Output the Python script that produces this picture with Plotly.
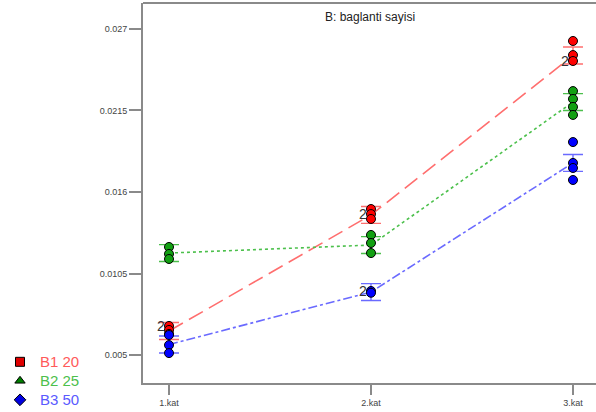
import plotly.graph_objects as go

# Factor levels on the x axis
categories = ["1.kat", "2.kat", "3.kat"]
xpos = [1, 2, 3]

# Predicted means per level of B (baglanti sayisi)
mean_b1 = [0.00662, 0.01445, 0.02521]
mean_b2 = [0.01188, 0.01242, 0.02207]
mean_b3 = [0.00571, 0.00925, 0.01796]

# Half width of the LSD bars
lsd_half = [0.00057, 0.00057, 0.00057]

# Design points (observed runs)
pts_b1_x = [1, 1, 1, 2, 2, 2, 3, 3, 3]
pts_b1_y = [0.00696, 0.00669, 0.00642, 0.01485, 0.01451, 0.01418, 0.02619, 0.02524, 0.02484]
pts_b2_x = [1, 1, 1, 2, 2, 2, 3, 3, 3, 3]
pts_b2_y = [0.01229, 0.01182, 0.01148, 0.01310, 0.01256, 0.01188, 0.02281, 0.02228, 0.02174, 0.02120]
pts_b3_x = [1, 1, 1, 2, 2, 3, 3, 3, 3]
pts_b3_y = [0.00635, 0.00567, 0.00513, 0.00932, 0.00920, 0.01937, 0.01796, 0.01762, 0.01681]

# Points that stand for two coincident runs
dup_x = [1, 2, 2, 3]
dup_y = [0.00696, 0.01451, 0.00932, 0.02484]

y_ticks = [0.005, 0.0105, 0.016, 0.0215, 0.027]
y_tick_text = ["0.005", "0.0105", "0.016", "0.0215", "0.027"]

series = [
    ("B1 20", mean_b1, pts_b1_x, pts_b1_y, "#ff6e6e", "#ff0000", "#e00000", "square", "#ff5a5a", "16px,7px"),
    ("B2 25", mean_b2, pts_b2_x, pts_b2_y, "#4cc04c", "#12a012", "#008000", "triangle-up", "#4cc04c", "dot"),
    ("B3 50", mean_b3, pts_b3_x, pts_b3_y, "#6a6aff", "#0000ff", "#0000e0", "diamond", "#5a5aff", "dashdot"),
]

fig = go.Figure()
font_family = "Liberation Sans Narrow, Arial Narrow, Liberation Sans, Arial, sans-serif"

for name, means, px, py, lcol, pcol, legcol, sym, tcol, dash in series:
    # connecting line through the means with LSD bars
    fig.add_trace(go.Scatter(
        x=xpos, y=means, mode="lines",
        line=dict(color=lcol, width=1.6, dash=dash),
        error_y=dict(type="data", array=lsd_half, color=lcol, thickness=1.4, width=10),
        showlegend=False, hoverinfo="skip",
    ))
    # observed design points
    fig.add_trace(go.Scatter(
        x=px, y=py, mode="markers",
        marker=dict(symbol="circle", size=9, color=pcol, line=dict(color="#000000", width=1)),
        showlegend=False,
    ))
    # legend entry
    fig.add_trace(go.Scatter(
        x=[None], y=[None], mode="markers",
        marker=dict(symbol=sym, size=9, color=legcol, line=dict(color="#000000", width=1)),
        name=f"<span style='color:{tcol};font-size:15px'>{name}</span>",
    ))

for dx, dy in zip(dup_x, dup_y):
    fig.add_annotation(x=dx, y=dy, text="2", showarrow=False, xanchor="right",
                       xshift=-2, font=dict(size=14, color="#333333", family="Liberation Sans, Arial"))

fig.add_annotation(xref="paper", yref="paper", x=0.501, y=1, yanchor="top", yshift=-5,
                   text="B: baglanti sayisi", showarrow=False,
                   font=dict(size=12, color="#222222", family=font_family))

# top border of the frame
fig.add_shape(type="line", xref="paper", yref="paper", x0=0, x1=1, y0=1, y1=1,
              line=dict(color="#8a8a8a", width=2))

fig.update_layout(
    width=596, height=412,
    margin=dict(l=143, r=0, t=3, b=29),
    paper_bgcolor="white", plot_bgcolor="white",
    legend=dict(xref="container", yref="container", x=0, y=0.157,
                xanchor="left", yanchor="top", font=dict(size=12, family="Liberation Sans, Arial"),
                itemwidth=30, tracegroupgap=0, bgcolor="rgba(0,0,0,0)"),
    xaxis=dict(range=[0.8713, 3.1139], tickvals=xpos, ticktext=categories,
               showgrid=False, zeroline=False, showline=True, linecolor="#8a8a8a", linewidth=2,
               ticks="outside", ticklen=10, tickcolor="#8a8a8a", tickwidth=1.5,
               tickfont=dict(size=9, color="#444444", family=font_family)),
    yaxis=dict(range=[0.003111, 0.028753], tickvals=y_ticks, ticktext=y_tick_text,
               showgrid=False, zeroline=False, showline=True, linecolor="#8a8a8a", linewidth=2,
               ticks="outside", ticklen=12, tickcolor="#8a8a8a", tickwidth=1.5,
               tickfont=dict(size=9, color="#444444", family=font_family)),
)

fig.write_html("out.html")
